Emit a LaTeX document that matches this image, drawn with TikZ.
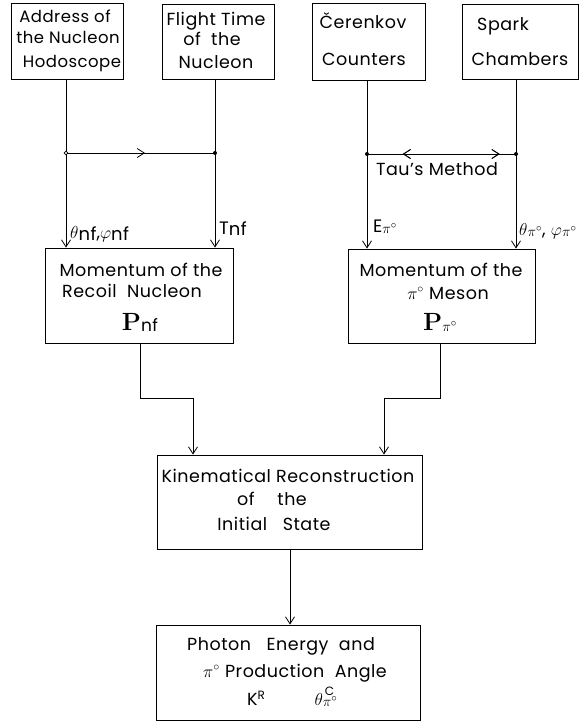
\documentclass[tikz,border=0pt]{standalone}
\usepackage{amsmath}
\usepackage[no-math]{fontspec}
\setmainfont[LetterSpace=3]{Poppins}
\usetikzlibrary{arrows.meta,decorations.markings}
\newcommand{\pisub}{\raisebox{-1.5pt}{\fontsize{15}{15}\selectfont$\pi^{\circ}$}}
\newcommand{\nfsub}{\raisebox{-2pt}{nf}}
\begin{document}
\begin{tikzpicture}[x=1pt,y=-1pt,
  box/.style={draw,line width=0.9pt,inner sep=0pt},
  lbl/.style={anchor=base,inner sep=0pt,font=\fontsize{17.5}{20}\selectfont},
  lbs/.style={anchor=base,inner sep=0pt,font=\fontsize{16.5}{20}\selectfont},
  sml/.style={anchor=base west,inner sep=0pt,font=\fontsize{18}{20}\selectfont},
  big/.style={anchor=base,inner sep=0pt,font=\fontsize{24}{26}\selectfont},
  conn/.style={line width=0.9pt},
  tip/.style={-{Straight Barb[length=7pt,width=9pt,line width=0.8pt]}},
  midright/.style={postaction={decorate},decoration={markings,
     mark=at position #1 with {\arrow{Straight Barb[length=7pt,width=9pt,line width=0.8pt]}}}},
  midleft/.style={postaction={decorate},decoration={markings,
     mark=at position #1 with {\arrowreversed{Straight Barb[length=7pt,width=9pt,line width=0.8pt]}}}}
]
\useasboundingbox (0,0) rectangle (579,721);

% boxes
\node[box,minimum width=112pt,minimum height=76pt] (b1) at (67,41) {};
\node[box,minimum width=112pt,minimum height=75pt] (b2) at (218,41.5) {};
\node[box,minimum width=113pt,minimum height=77pt] (b3) at (368.5,41.5) {};
\node[box,minimum width=116pt,minimum height=75pt] (b4) at (520,41.5) {};
\node[box,minimum width=188pt,minimum height=95pt] (b5) at (139,295.5) {};
\node[box,minimum width=187pt,minimum height=94pt] (b6) at (441.5,296) {};
\node[box,minimum width=265pt,minimum height=94pt] (b7) at (289.5,502) {};
\node[box,minimum width=264pt,minimum height=95pt] (b8) at (288,672.5) {};

% box texts
\node[lbs] (t1a) at (65,22) {Address of};
\node[lbs] (t1b) at (68,43) {the Nucleon};
\node[lbs] (t1c) at (72,67) {Hodoscope};
\node[lbl] (t2a) at (216,25) {Flight Time};
\node[lbl] (t2b) at (212,45) {of \ the};
\node[lbl] (t2c) at (216,68) {Nucleon};
\node[lbl] (t3a) at (363,28) {Čerenkov};
\node[lbl] (t3b) at (364,65) {Counters};
\node[lbl] (t4a) at (503,30) {Spark};
\node[lbl] (t4b) at (520,65) {Chambers};

\node[lbl] (t5a) at (141,276) {Momentum of the};
\node[lbl] (t5b) at (132,297) {Recoil \ Nucleon};
\node[big] (t5c) at (140,330) {$\mathbf{P}$\raisebox{-1pt}{\fontsize{17}{17}\selectfont nf}};
\node[lbl] (t6a) at (441,276) {Momentum of the};
\node[lbl] (t6b) at (448,299) {$\pi^{\circ}$ Meson};
\node[big] (t6c) at (440,330) {$\mathbf{P}$\pisub};

\node[lbl] (t7a) at (288,482) {Kinematical Reconstruction};
\node[lbl] (t7b) at (272,505) {of \quad the};
\node[lbl] (t7c) at (274,530) {Initial \ \ State};

\node[lbl] (t8a) at (281,650) {Photon \ \ Energy \ and};
\node[lbl] (t8b) at (295,677) {$\pi^{\circ}$ Production \ Angle};
\node[lbl] (t8c) at (256,705) {K\raisebox{6pt}{\fontsize{12}{12}\selectfont R}};
\node[lbl] (t8d) at (326,705) {$\theta$\rlap{\raisebox{10pt}{\fontsize{12}{12}\selectfont\,C}}\pisub};

% junctions
\coordinate (j1) at (66,153);
\coordinate (j2) at (215,153);
\coordinate (j3) at (367,154);
\coordinate (j4) at (516,154);

\draw[conn] (b1.south -| j1) -- (j1);
\draw[conn,tip] (j1) -- (b5.north -| j1);
\draw[conn] (b2.south -| j2) -- (j2);
\draw[conn,tip] (j2) -- (b5.north -| j2);
\draw[conn,midright=0.53] (j1) -- (j2);

\draw[conn] (b3.south -| j3) -- (j3);
\draw[conn,tip] (j3) -- (b6.north -| j3);
\draw[conn] (b4.south -| j4) -- (j4);
\draw[conn,tip] (j4) -- (b6.north -| j4);
\draw[conn,midleft=0.24,midright=0.89] (j3) -- (j4);

\fill (j2) circle (2pt);
\fill (j3) circle (2pt);
\fill (j4) circle (2pt);
\draw[line width=0.7pt,fill=white] (j1) circle (1.8pt);

\node[lbl] (tau) at (437,175) {Tau's Method};
\node[sml] (l1) at (70,238) {$\theta$\nfsub,$\varphi$\nfsub};
\node[sml] (l2) at (219,234) {T\raisebox{-1.5pt}{nf}};
\node[sml] (l3) at (373,232) {E\pisub};
\node[sml] (l4) at (519,235) {$\theta$\pisub, $\varphi$\pisub};

% lower connectors
\coordinate (k1) at (140,398);
\coordinate (k2) at (193,398);
\coordinate (k3) at (440,398);
\coordinate (k4) at (384,398);
\coordinate (k5) at (290,600);
\draw[conn,tip] (b5.south -| k1) -- (k1) -- (k2) -- (b7.north -| k2);
\draw[conn,tip] (b6.south -| k3) -- (k3) -- (k4) -- (b7.north -| k4);
\draw[conn,tip] (b7.south -| k5) -- (b8.north -| k5);
\end{tikzpicture}
\end{document}
